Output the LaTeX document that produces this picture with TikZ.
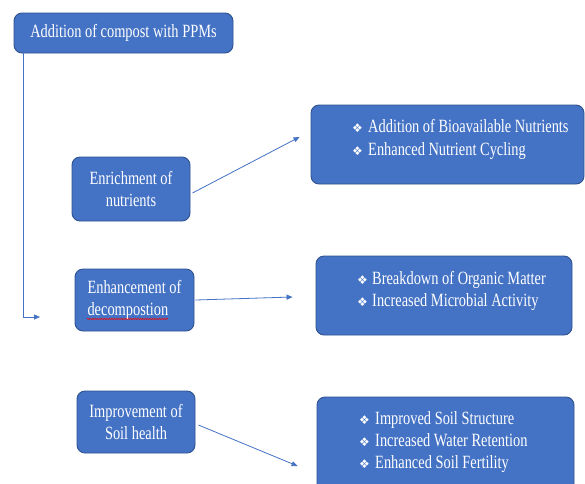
\documentclass[tikz,border=0pt]{standalone}
\usepackage{fontspec}
\setmainfont{Liberation Serif}
\newfontfamily\bxfont[FakeStretch=0.77]{Liberation Serif}
\newfontfamily\bulfont{DejaVu Sans}
\usetikzlibrary{arrows.meta,calc,decorations.pathmorphing}
\definecolor{boxfill}{HTML}{4472C4}
\definecolor{boxline}{HTML}{2F528F}
\newcommand{\bul}{{\bulfont\fontsize{12}{12}\selectfont ❖}}
\tikzset{
  boxstyle/.style={draw=boxline, fill=boxfill, line width=0.9pt, rounded corners=8pt,
    inner sep=0pt, text=white, font=\bxfont\fontsize{18.7}{22}\selectfont},
  itemstyle/.style={anchor=base west, inner sep=0pt, text=white,
    font=\bxfont\fontsize{18.7}{22}\selectfont},
  arr/.style={draw=boxfill, line width=0.8pt, -{Triangle[length=6pt,width=5pt]}}
}
\begin{document}
\begin{tikzpicture}[x=1pt,y=-1pt]
\useasboundingbox (0,0) rectangle (585,483);
\clip (0,0) rectangle (585,483);
\fill[white] (0,0) rectangle (585,483);
% left boxes
\node[boxstyle, minimum width=219pt, minimum height=40pt] (top) at (123.5,33) {Addition of compost with PPMs};
\node[boxstyle, minimum width=118pt, minimum height=64pt, align=center] (enr) at (131,189) {Enrichment of\\nutrients};
\node[boxstyle, minimum width=119pt, minimum height=62pt, align=left] (enh) at (134.5,300) {Enhancement of\\decompostion};
\node[boxstyle, minimum width=118pt, minimum height=62pt, align=center] (imp) at (136,422) {Improvement of\\Soil health};
% right boxes
\node[boxstyle, minimum width=273pt, minimum height=79pt] (r1) at (447.5,144.5) {};
\node[boxstyle, minimum width=256pt, minimum height=79pt] (r2) at (444,295.5) {};
\node[boxstyle, minimum width=257pt, minimum height=103pt] (r3) at (445.5,448.5) {};
% items
\node[itemstyle] (i11) at (352,132) {\makebox[16pt][l]{\bul}Addition of Bioavailable Nutrients};
\node[itemstyle] (i12) at (352,155) {\makebox[16pt][l]{\bul}Enhanced Nutrient Cycling};
\node[itemstyle] (i21) at (357,284) {\makebox[15pt][l]{\bul}Breakdown of Organic Matter};
\node[itemstyle] (i22) at (357,306) {\makebox[15pt][l]{\bul}Increased Microbial Activity};
\node[itemstyle] (i31) at (359,424) {\makebox[16pt][l]{\bul}Improved Soil Structure};
\node[itemstyle] (i32) at (359,446) {\makebox[16pt][l]{\bul}Increased Water Retention};
\node[itemstyle] (i33) at (359,468) {\makebox[16pt][l]{\bul}Enhanced Soil Fertility};
% spell-check underline
\draw[red, line width=0.5pt, decorate, decoration={snake, amplitude=0.7pt, segment length=2.4pt}]
  ($(enh.center)+(-47.5,19)$) -- ($(enh.center)+(33.5,19)$);
% connectors
\coordinate (e0) at (40,317);
\draw[arr] ([xshift=10pt]top.south west) |- (e0);
\draw[arr] ([xshift=2pt,yshift=-4pt]enr.east) -- ([xshift=-11pt,yshift=7.5pt]r1.west);
\draw[arr] ([xshift=1pt]enh.east) -- ([xshift=-23pt,yshift=-1.5pt]r2.west);
\draw[arr] ([xshift=3pt,yshift=-3pt]imp.east) -- ([xshift=-19pt,yshift=-17.5pt]r3.west);
\end{tikzpicture}
\end{document}
